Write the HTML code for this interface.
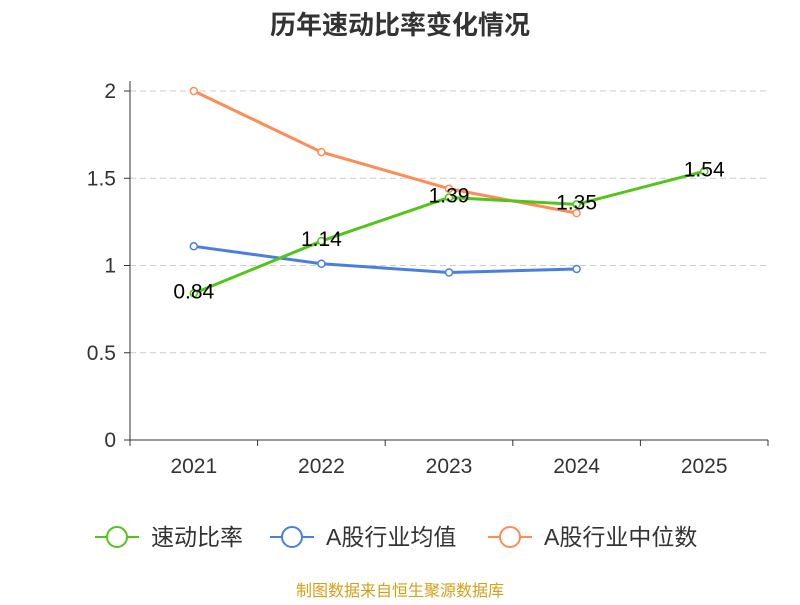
<!DOCTYPE html>
<html><head><meta charset="utf-8"><style>
body{margin:0;background:#fff;}
svg text{font-family:"Liberation Sans","Noto Sans CJK SC",sans-serif;}
</style></head><body>
<svg id="c" width="800" height="600" xmlns="http://www.w3.org/2000/svg">
<text x="400" y="34" text-anchor="middle" font-size="26" font-weight="bold" fill="#333">历年速动比率变化情况</text>
<g id="grid"></g><g id="axes"></g><g id="series"></g><g id="legend"></g>
<text x="400" y="596" text-anchor="middle" font-size="16" fill="#d4a017">制图数据来自恒生聚源数据库</text>
</svg>
<script>
const categories=["2021","2022","2023","2024","2025"];
const yTicks=[0,0.5,1,1.5,2];
const yTickLabels=["0","0.5","1","1.5","2"];
const quickRatio=[0.84,1.14,1.39,1.35,1.54];
const industryAvg=[1.11,1.01,0.96,0.98,null];
const industryMedian=[2.0,1.65,1.44,1.30,null];
const seriesNames=["速动比率","A股行业均值","A股行业中位数"];
const colors=["#52c41a","#4a7fe0","#ff8c55"];
const NS="http://www.w3.org/2000/svg";
const x0=130,x1=768,y0=440,yTop=91;
const band=(x1-x0)/categories.length;
const X=i=>x0+band*(i+0.5);
const Y=v=>y0-(v/2)*(y0-yTop);
function mk(t,a,p){const e=document.createElementNS(NS,t);for(const k in a)e.setAttribute(k,a[k]);p.appendChild(e);return e;}
const grid=document.getElementById('grid'),axes=document.getElementById('axes'),ser=document.getElementById('series'),leg=document.getElementById('legend');
yTicks.forEach((v,i)=>{
 if(v>0){const g=mk('line',{x1:x0,x2:x1,y1:Y(v),y2:Y(v),stroke:'#ccc','stroke-dasharray':'6,4'},grid);
 
 }
 const t=mk('text',{x:x0-14,y:Y(v)+7,'text-anchor':'end','font-size':21,fill:'#333'},axes);t.textContent=yTickLabels[i];
 
 
 const tk=mk('line',{x1:x0-6,x2:x0,y1:Y(v),y2:Y(v),stroke:'#333'},axes);
 
 
});
const ya=mk('line',{x1:x0,x2:x0,y1:yTop-10,y2:y0,stroke:'#333'},axes);


const xa=mk('line',{x1:x0,x2:x1,y1:y0,y2:y0,stroke:'#333'},axes);


for(let i=0;i<=categories.length;i++){const tk=mk('line',{x1:x0+band*i,x2:x0+band*i,y1:y0,y2:y0+6,stroke:'#333'},axes);
 
 }
categories.forEach((c,i)=>{const t=mk('text',{x:X(i),y:y0+33,'text-anchor':'middle','font-size':21,fill:'#333'},axes);t.textContent=c;
 
 });
function drawSeries(data,color,name,labels){
 const pts=[];data.forEach((v,i)=>{if(v!==null)pts.push([X(i),Y(v),v]);});
 const p=mk('polyline',{points:pts.map(p=>p[0]+','+p[1]).join(' '),fill:'none',stroke:color,'stroke-width':3},ser);
 
 
 pts.forEach(q=>{const c=mk('circle',{cx:q[0],cy:q[1],r:3.5,fill:'#fff',stroke:color,'stroke-width':1.5},ser);
  
  
  if(labels){const t=mk('text',{x:q[0],y:q[1]+5,'text-anchor':'middle','font-size':21,fill:'#000'},ser);t.textContent=q[2].toFixed(2);
   
   }
 });
}
drawSeries(industryAvg,colors[1],'industry-avg',false);
drawSeries(industryMedian,colors[2],'industry-median',false);
drawSeries(quickRatio,colors[0],'quick-ratio',true);
const lx=[95,270,488];
seriesNames.forEach((n,i)=>{
 const g=mk('g',{},leg);
 
 
 mk('line',{x1:lx[i],x2:lx[i]+44,y1:537,y2:537,stroke:colors[i],'stroke-width':2},g);
 mk('circle',{cx:lx[i]+22,cy:537,r:10,fill:'#fff',stroke:colors[i],'stroke-width':2},g);
 const t=mk('text',{x:lx[i]+56,y:545,'font-size':23,fill:'#333'},g);t.textContent=n;
});
</script>
</body></html>
